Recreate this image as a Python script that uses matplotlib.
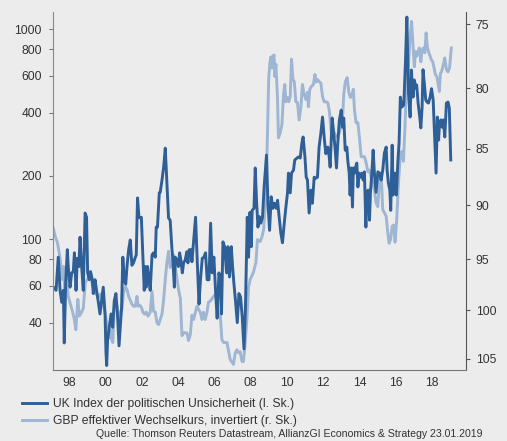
import matplotlib
matplotlib.use("Agg")
import matplotlib.pyplot as plt
from matplotlib.lines import Line2D
from matplotlib.ticker import FixedLocator, NullLocator

# UK economic policy uncertainty index (left axis, log scale)
epu_t = [1997.12, 1997.27, 1997.39, 1997.49, 1997.58, 1997.67, 1997.72, 1997.80, 1997.89, 1997.94,
         1998.04, 1998.13, 1998.22, 1998.28, 1998.37, 1998.44, 1998.53, 1998.59, 1998.68, 1998.77,
         1998.87, 1998.95, 1999.01, 1999.10, 1999.17, 1999.27, 1999.32, 1999.42, 1999.50, 1999.60,
         1999.69, 1999.78, 1999.87, 1999.97, 2000.02, 2000.06, 2000.11, 2000.20, 2000.30, 2000.39,
         2000.48, 2000.57, 2000.66, 2000.74, 2000.79, 2000.88, 2000.95, 2001.03, 2001.11, 2001.18,
         2001.27, 2001.36, 2001.45, 2001.54, 2001.64, 2001.69, 2001.76, 2001.84, 2001.91, 2001.97,
         2002.06, 2002.13, 2002.19, 2002.24, 2002.31, 2002.39, 2002.46, 2002.56, 2002.64, 2002.74,
         2002.79, 2002.86, 2002.96, 2003.01, 2003.11, 2003.20, 2003.29, 2003.38, 2003.47, 2003.56,
         2003.66, 2003.71, 2003.79, 2003.84, 2003.93, 2004.01, 2004.08, 2004.15, 2004.23, 2004.30,
         2004.39, 2004.48, 2004.54, 2004.61, 2004.71, 2004.76, 2004.87, 2004.96, 2005.05, 2005.15,
         2005.23, 2005.33, 2005.42, 2005.51, 2005.60, 2005.70, 2005.79, 2005.88, 2005.97, 2006.06,
         2006.15, 2006.25, 2006.34, 2006.39, 2006.47, 2006.56, 2006.67, 2006.74, 2006.83, 2006.93,
         2007.00, 2007.07, 2007.16, 2007.26, 2007.35, 2007.44, 2007.53, 2007.63, 2007.71, 2007.81,
         2007.88, 2007.96, 2008.03, 2008.08, 2008.18, 2008.25, 2008.32, 2008.40, 2008.47, 2008.56,
         2008.65, 2008.74, 2008.87, 2008.95, 2009.04, 2009.13, 2009.22, 2009.31, 2009.41, 2009.48,
         2009.57, 2009.66, 2009.75, 2009.85, 2009.94, 2010.03, 2010.08, 2010.18, 2010.25, 2010.36,
         2010.43, 2010.55, 2010.63, 2010.73, 2010.82, 2010.89, 2010.99, 2011.06, 2011.13, 2011.22,
         2011.32, 2011.40, 2011.50, 2011.59, 2011.68, 2011.77, 2011.87, 2011.96, 2012.05, 2012.14,
         2012.25, 2012.33, 2012.38, 2012.44, 2012.49, 2012.56, 2012.66, 2012.73, 2012.80, 2012.89,
         2012.99, 2013.06, 2013.13, 2013.21, 2013.30, 2013.35, 2013.43, 2013.48, 2013.54, 2013.61,
         2013.66, 2013.72, 2013.77, 2013.85, 2013.91, 2013.98, 2014.05, 2014.13, 2014.20, 2014.27,
         2014.35, 2014.40, 2014.47, 2014.55, 2014.60, 2014.68, 2014.75, 2014.82, 2014.91, 2015.01,
         2015.10, 2015.19, 2015.28, 2015.37, 2015.47, 2015.52, 2015.59, 2015.67, 2015.72, 2015.80,
         2015.85, 2015.94, 2016.03, 2016.11, 2016.18, 2016.25, 2016.33, 2016.44, 2016.53, 2016.61,
         2016.70, 2016.79, 2016.86, 2016.95, 2017.02, 2017.10, 2017.15, 2017.23, 2017.32, 2017.38,
         2017.45, 2017.50, 2017.58, 2017.65, 2017.72, 2017.80, 2017.89, 2017.97, 2018.06, 2018.15,
         2018.22, 2018.29, 2018.36, 2018.41, 2018.48, 2018.55, 2018.62, 2018.70, 2018.79, 2018.88,
         2018.95, 2019.03]
epu = [59, 57, 82, 57, 50, 57, 32, 62, 89, 74,
       59, 69, 70, 86, 57, 81, 74, 102, 74, 57,
       133, 127, 69, 64, 70, 64, 55, 64, 57, 50,
       44, 51, 59, 44, 29, 25, 33, 38, 44, 38,
       51, 55, 43, 31, 36, 47, 82, 64, 61, 74,
       89, 99, 75, 77, 82, 84, 157, 127, 126, 127,
       79.5, 57, 74, 59, 74, 64, 57, 84, 86, 82,
       114, 114, 166, 167, 191, 220, 271, 185, 126, 123,
       89, 79.5, 59, 82, 79.5, 74, 86, 79.5, 69, 77,
       79.5, 87, 77, 89, 89, 78, 102, 127, 79.5, 49,
       64, 81, 82, 86, 64, 64, 119, 69, 82, 57,
       42, 69, 62, 44, 97, 92, 69, 92, 66, 92,
       74, 62, 51, 40, 55, 53, 43, 30, 47, 127,
       82, 134, 92, 137, 140, 218, 153, 114, 128, 119,
       127, 177, 251, 148, 110, 159, 140, 148, 140, 153,
       127, 107, 96, 119, 142, 166, 206, 166, 206, 213,
       238, 243, 246, 243, 286, 306, 246, 197, 191, 133,
       171, 148, 197, 195, 197, 274, 320, 381, 306, 255,
       274, 246, 220, 296, 377, 330, 265, 218, 286, 369,
       411, 341, 377, 265, 274, 238, 206, 162, 218, 142,
       218, 206, 218, 230, 177, 206, 197, 206, 191, 209,
       114, 166, 171, 123, 166, 206, 265, 206, 167, 209,
       206, 191, 213, 257, 274, 213, 185, 171, 137, 280,
       162, 206, 162, 230, 286, 474, 425, 435, 689, 1140,
       496, 381, 638, 474, 572, 524, 541, 444, 381, 338,
       425, 640, 541, 460, 449, 444, 474, 520, 459, 296,
       206, 381, 296, 357, 369, 341, 369, 306, 444, 449,
       420, 238]

# GBP trade-weighted exchange rate (right axis, inverted)
gbp_t = [1997.12, 1997.23, 1997.34, 1997.42, 1997.50, 1997.59, 1997.67, 1997.75, 1997.83, 1997.94,
         1998.06, 1998.17, 1998.28, 1998.36, 1998.47, 1998.55, 1998.68, 1998.77, 1998.88, 1998.99,
         1999.10, 1999.21, 1999.29, 1999.38, 1999.49, 1999.60, 1999.71, 1999.82, 1999.93, 2000.01,
         2000.09, 2000.19, 2000.26, 2000.33, 2000.40, 2000.48, 2000.56, 2000.64, 2000.73, 2000.81,
         2000.90, 2000.99, 2001.09, 2001.18, 2001.27, 2001.36, 2001.45, 2001.54, 2001.64, 2001.73,
         2001.79, 2001.87, 2001.97, 2002.06, 2002.15, 2002.24, 2002.34, 2002.46, 2002.56, 2002.64,
         2002.74, 2002.83, 2002.92, 2003.01, 2003.11, 2003.20, 2003.29, 2003.38, 2003.47, 2003.56,
         2003.66, 2003.75, 2003.84, 2003.93, 2004.02, 2004.12, 2004.21, 2004.30, 2004.39, 2004.48,
         2004.57, 2004.67, 2004.76, 2004.85, 2005.04, 2005.12, 2005.22, 2005.31, 2005.40, 2005.49,
         2005.59, 2005.67, 2005.77, 2005.95, 2006.14, 2006.23, 2006.32, 2006.41, 2006.50, 2006.69,
         2006.87, 2007.05, 2007.15, 2007.24, 2007.33, 2007.42, 2007.52, 2007.60, 2007.70, 2007.79,
         2007.88, 2007.97, 2008.15, 2008.29, 2008.37, 2008.52, 2008.62, 2008.71, 2008.84, 2008.93,
         2008.99, 2009.05, 2009.11, 2009.17, 2009.22, 2009.29, 2009.33, 2009.39, 2009.48, 2009.53,
         2009.63, 2009.72, 2009.81, 2009.88, 2009.94, 2010.03, 2010.10, 2010.18, 2010.25, 2010.33,
         2010.40, 2010.49, 2010.58, 2010.67, 2010.77, 2010.85, 2010.95, 2011.04, 2011.13, 2011.18,
         2011.26, 2011.35, 2011.46, 2011.54, 2011.61, 2011.68, 2011.77, 2011.87, 2011.96, 2012.05,
         2012.16, 2012.25, 2012.34, 2012.44, 2012.53, 2012.62, 2012.71, 2012.80, 2012.89, 2012.99,
         2013.08, 2013.13, 2013.22, 2013.32, 2013.41, 2013.50, 2013.59, 2013.66, 2013.72, 2013.81,
         2013.91, 2013.99, 2014.09, 2014.18, 2014.27, 2014.36, 2014.46, 2014.55, 2014.64, 2014.73,
         2014.82, 2014.91, 2015.01, 2015.10, 2015.19, 2015.28, 2015.37, 2015.47, 2015.55, 2015.63,
         2015.71, 2015.80, 2015.88, 2015.96, 2016.05, 2016.14, 2016.24, 2016.33, 2016.42, 2016.50,
         2016.57, 2016.65, 2016.73, 2016.80, 2016.87, 2016.95, 2017.02, 2017.09, 2017.16, 2017.23,
         2017.30, 2017.38, 2017.45, 2017.52, 2017.60, 2017.67, 2017.74, 2017.82, 2017.89, 2017.96,
         2018.04, 2018.11, 2018.18, 2018.26, 2018.33, 2018.40, 2018.46, 2018.52, 2018.61, 2018.70,
         2018.79, 2018.88, 2018.96, 2019.06]
gbp = [92.1, 92.9, 93.4, 94.2, 95.0, 96.96, 95.7, 97.94, 96.67, 98.63,
       99.4, 100.1, 100.94, 101.98, 98.92, 100.6, 100.2, 99.8, 97.25, 96.96,
       96.5, 96.96, 97.65, 97.15, 98.4, 98.73, 98.4, 98.92, 99.9, 100.7,
       101.8, 102.8, 101.98, 103.0, 103.3, 99.4, 98.92, 99.7, 101.46, 100.2,
       99.9, 98.24, 97.65, 97.94, 98.63, 99.0, 99.4, 99.6, 99.6, 98.63,
       99.6, 99.5, 99.7, 100.2, 100.4, 100.2, 100.6, 100.2, 98.14, 100.1,
       100.2, 101.25, 101.46, 100.94, 100.4, 98.92, 96.96, 95.3, 94.25, 95.8,
       95.2, 94.6, 95.8, 96.8, 97.94, 98.8, 102.6, 102.3, 102.3, 102.3,
       103.1, 102.5, 100.5, 100.94, 99.6, 99.9, 100.2, 100.94, 100.2, 100.94,
       100.2, 99.2, 99.1, 98.63, 98.24, 100.6, 100.4, 103.0, 103.3, 103.3,
       105.1, 105.6, 104.37, 104.06, 104.37, 104.27, 105.3, 105.3, 103.3, 100.94,
       97.75, 96.96, 96.27, 95.3, 93.16, 93.34, 92.9, 92.24, 89.2, 83.4,
       79.3, 78.1, 77.53, 78.4, 77.45, 77.37, 79.07, 78.1, 80.9, 84.1,
       83.67, 83.0, 80.5, 79.7, 81.1, 80.75, 81.1, 80.67, 77.7, 79.3,
       79.46, 81.1, 81.17, 82.6, 81.5, 79.7, 80.5, 80.9, 80.33, 81.5,
       80.08, 79.85, 79.7, 78.9, 79.5, 79.3, 79.46, 79.6, 80.67, 81.1,
       81.1, 81.17, 81.9, 83.6, 84.25, 83.67, 84.0, 84.0, 83.67, 83.0,
       82.0, 80.5, 79.46, 79.15, 80.33, 80.75, 80.5, 80.08, 81.75, 82.83,
       82.83, 84.0, 85.7, 85.7, 85.7, 86.2, 87.0, 86.86, 87.47, 88.0,
       88.6, 89.76, 90.12, 87.55, 87.1, 90.4, 90.67, 91.0, 92.4, 93.5,
       93.16, 91.9, 91.8, 93.4, 91.3, 88.2, 85.7, 85.25, 86.1, 83.4,
       80.5, 78.9, 77.37, 75.8, 74.8, 76.6, 78.3, 77.1, 77.45, 77.1,
       76.83, 77.9, 77.0, 76.83, 77.2, 75.67, 76.75, 77.2, 77.45, 77.76,
       77.9, 78.4, 78.9, 79.07, 79.6, 80.25, 78.8, 78.7, 78.2, 77.6,
       78.5, 78.7, 78.4, 76.83]

left_ticks = [40, 60, 80, 100, 200, 400, 600, 800, 1000]
right_ticks = [75, 80, 85, 90, 95, 100, 105]
year_ticks = list(range(1998, 2019, 2))
year_labels = ["98", "00", "02", "04", "06", "08", "10", "12", "14", "16", "18"]

DARK = "#2f5f97"
LIGHT = "#9eb6d4"
BG = "#ececec"
TXT = "#333333"

plt.rcParams["font.family"] = ["Liberation Sans", "DejaVu Sans"]
plt.rcParams["font.size"] = 8.7

fig = plt.figure(figsize=(5.07, 4.41), dpi=100, facecolor=BG)
ax = fig.add_axes([53 / 507, 1 - 370 / 441, 413 / 507, 358 / 441])
ax2 = ax.twinx()

# keep the uncertainty index drawn above the exchange rate
ax.set_zorder(ax2.get_zorder() + 1)
ax.patch.set_visible(False)
ax2.set_facecolor(BG)

ax2.plot(gbp_t, gbp, color=LIGHT, lw=2.1, solid_joinstyle="round")
ax.plot(epu_t, epu, color=DARK, lw=2.1, solid_joinstyle="round")

ax.set_yscale("log")
ax.set_ylim(23.8, 1205)
ax.yaxis.set_major_locator(FixedLocator(left_ticks))
ax.yaxis.set_minor_locator(NullLocator())
ax.set_yticklabels([str(v) for v in left_ticks])

ax2.set_yscale("log")
ax2.set_ylim(106.2, 74.1)
ax2.yaxis.set_major_locator(FixedLocator(right_ticks))
ax2.yaxis.set_minor_locator(NullLocator())
ax2.set_yticklabels([str(v) for v in right_ticks])

ax.set_xlim(1997.1, 2019.87)
ax.set_xticks(year_ticks)
ax.set_xticklabels(year_labels)

for a in (ax, ax2):
    for s in a.spines.values():
        s.set_visible(False)
ax.spines["left"].set_visible(True)
ax.spines["left"].set_color("#8a8a8a")
ax.spines["bottom"].set_visible(True)
ax.spines["bottom"].set_color("#7a7a7a")
ax2.spines["right"].set_visible(True)
ax2.spines["right"].set_color("#555555")

ax.tick_params(axis="y", length=3, width=0.8, color="#777777", pad=5, labelcolor=TXT, labelsize=8.7)
ax2.tick_params(axis="y", length=3, width=0.8, color="#555555", pad=4, labelcolor=TXT, labelsize=8.7)
ax.tick_params(axis="x", length=0, pad=5, labelcolor=TXT, labelsize=8.7)

handles = [Line2D([], [], color=DARK, lw=2.1),
           Line2D([], [], color=LIGHT, lw=2.1)]
labels = ["UK Index der politischen Unsicherheit (l. Sk.)",
          "GBP effektiver Wechselkurs, invertiert (r. Sk.)"]
fig.legend(handles, labels, loc="upper left", bbox_to_anchor=(22 / 507, 1 - 398 / 441),
           frameon=False, fontsize=8.7, handlelength=2.1, handletextpad=0.5,
           labelspacing=0.4, borderpad=0, borderaxespad=0, labelcolor=TXT)

fig.text(482 / 507, 1 - 434 / 441,
         "Quelle: Thomson Reuters Datastream, AllianzGI Economics & Strategy 23.01.2019",
         ha="right", va="center", fontsize=7.6, color=TXT)

fig.savefig("out.png", dpi=100, facecolor=BG)
